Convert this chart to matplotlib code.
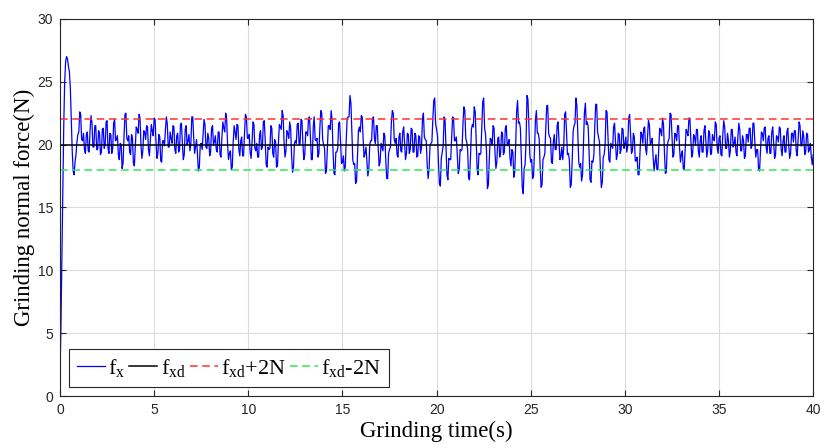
import numpy as np
import matplotlib.pyplot as plt

plt.rcParams['mathtext.fontset'] = 'custom'
plt.rcParams['mathtext.rm'] = 'Liberation Serif'
plt.rcParams['mathtext.it'] = 'Liberation Serif'

fx_even = [
    1.7, 11.0, 21.5, 26.6, 26.8, 25.8, 22.0, 17.9, 18.6, 20.2,
    21.0, 22.4, 20.3, 19.6, 20.8, 19.5, 21.2, 21.7, 19.8, 21.5,
    19.6, 20.9, 19.4, 21.3, 20.0, 21.9, 19.3, 20.8, 19.7, 22.0,
    20.4, 19.2, 20.1, 18.1, 20.6, 22.5, 20.3, 19.4, 20.8, 18.5,
    19.9, 21.2, 22.4, 20.0, 19.5, 21.0, 21.5, 19.6, 20.4, 21.1,
    22.1, 20.2, 19.3, 20.6, 18.6, 20.3, 21.2, 21.6, 19.8, 20.5,
    21.5, 19.6, 20.7, 19.4, 21.6, 20.1, 19.2, 21.5, 20.3, 19.5,
    22.2, 20.6, 19.8, 19.3, 18.2, 20.1, 20.8, 21.6, 19.7, 20.5,
    19.4, 21.5, 20.2, 19.6, 21.0, 19.2, 20.6, 21.3, 22.5, 20.0,
    19.3, 18.0, 20.2, 21.0, 21.6, 19.6, 20.3, 19.1, 20.9, 22.2,
    20.5, 19.4, 20.2, 21.6, 19.5, 19.0, 20.8, 19.6, 21.8, 20.3,
    18.2, 19.6, 21.5, 19.3, 20.4, 18.2, 20.1, 21.4, 22.7, 20.2,
    19.5, 20.9, 21.8, 19.1, 18.2, 20.3, 21.6, 20.0, 22.0, 20.1,
    19.2, 21.0, 22.1, 20.6, 18.8, 22.2, 20.3, 19.0, 21.3, 22.5,
    20.0, 17.7, 19.8, 21.5, 22.7, 19.5, 17.6, 19.4, 21.7, 20.2,
    18.6, 17.9, 20.3, 22.2, 23.9, 21.0, 18.4, 16.9, 19.0, 21.4,
    22.3, 20.4, 19.3, 18.6, 18.0, 20.3, 22.1, 20.5, 21.5, 19.7,
    18.6, 19.8, 20.9, 18.8, 17.3, 19.6, 21.8, 22.5, 20.1, 19.2,
    20.6, 19.5, 21.0, 20.1, 19.3, 20.8, 19.6, 21.2, 19.4, 20.7,
    19.1, 20.6, 19.8, 22.5, 20.4, 18.4, 18.0, 20.1, 22.0, 23.7,
    21.2, 18.5, 16.7, 19.4, 22.2, 19.8, 17.2, 18.8, 20.6, 22.1,
    20.3, 19.2, 18.0, 19.5, 21.6, 22.7, 20.2, 17.3, 19.0, 21.6,
    23.0, 20.5, 17.6, 19.2, 21.3, 23.7, 20.8, 16.5, 18.9, 20.4,
    21.5, 19.4, 18.6, 20.6, 19.3, 20.9, 19.4, 21.5, 20.1, 18.9,
    19.6, 17.4, 20.0, 23.5, 21.8, 19.0, 16.1, 18.4, 23.9, 21.6,
    18.6, 17.3, 19.6, 22.7, 20.9, 18.2, 16.8, 19.0, 21.4, 23.1,
    20.6, 18.6, 20.2, 19.6, 21.5, 20.3, 19.0, 18.8, 22.4, 21.0,
    19.3, 16.6, 18.7, 21.5, 23.7, 20.8, 18.2, 17.1, 20.0, 23.3,
    21.8, 19.2, 17.0, 18.6, 21.4, 23.2, 20.6, 18.0, 17.0, 19.2,
    22.7, 20.8, 18.6, 19.9, 21.4, 20.2, 19.2, 20.8, 19.6, 21.2,
    20.0, 19.4, 22.1, 20.9, 19.5, 20.6, 18.7, 17.6, 19.4, 20.8,
    21.3, 19.7, 20.5, 21.6, 20.2, 19.0, 18.6, 18.0, 19.8, 21.1,
    22.1, 19.4, 17.8, 20.3, 22.5, 20.6, 19.2, 20.8, 21.5, 19.8,
    19.2, 18.1, 19.6, 21.0, 22.1, 20.4, 19.3, 20.6, 21.2, 19.5,
    20.3, 19.4, 21.1, 20.2, 19.6, 20.9, 19.3, 20.5, 21.8, 19.8,
    20.5, 19.2, 20.8, 21.4, 19.7, 20.3, 19.5, 21.2, 20.1, 19.4,
    20.6, 21.2, 19.5, 20.3, 19.1, 20.8, 21.3, 19.7, 21.7, 20.2,
    19.6, 18.0, 19.5, 20.9, 21.3, 19.8, 20.5, 19.3, 21.0, 20.2,
    19.2, 20.6, 21.4, 19.6, 20.3, 19.4, 21.0, 20.0, 19.3, 20.9,
    21.1, 19.5, 20.4, 21.5, 19.9, 20.6, 19.4, 20.8, 19.6, 19.0,
    19.2,
]
# readings in between (t = 0.05, 0.15, ...), the fast ripple
fx_odd = [
    5.5, 17.0, 25.0, 27.0, 26.2, 24.5, 19.5, 17.6, 19.2, 20.8,
    22.6, 20.4, 20.9, 19.3, 21.0, 19.4, 22.3, 19.8, 21.5, 19.6,
    21.1, 19.2, 21.2, 19.7, 21.8, 19.7, 20.9, 19.3, 21.7, 20.3,
    20.7, 18.8, 20.0, 18.5, 22.4, 20.5, 20.7, 19.2, 20.5, 18.3,
    21.4, 20.9, 22.1, 18.9, 21.1, 20.4, 21.4, 19.1, 21.6, 20.7,
    22.0, 18.9, 20.8, 18.7, 20.3, 19.9, 22.2, 19.8, 21.0, 20.1,
    21.4, 19.3, 20.9, 19.6, 21.7, 18.8, 21.2, 20.0, 20.8, 20.0,
    22.2, 19.3, 20.4, 17.9, 20.0, 19.6, 22.0, 19.8, 20.9, 19.1,
    21.3, 20.0, 20.7, 19.4, 21.0, 19.0, 21.8, 21.0, 22.1, 18.8,
    19.5, 18.2, 21.5, 20.4, 21.5, 19.1, 20.6, 19.1, 22.4, 20.5,
    20.8, 18.9, 21.8, 19.7, 20.1, 19.0, 21.1, 19.8, 21.9, 18.4,
    19.8, 19.7, 21.3, 19.0, 20.2, 18.3, 21.6, 21.2, 22.3, 19.0,
    21.1, 20.5, 21.3, 17.8, 20.1, 20.1, 21.7, 20.1, 21.9, 18.8,
    21.0, 20.7, 22.2, 18.8, 21.4, 20.4, 20.5, 19.3, 22.7, 20.4,
    19.7, 17.9, 21.5, 21.2, 22.0, 17.7, 19.4, 19.7, 21.8, 18.5,
    19.1, 18.2, 22.1, 22.2, 23.3, 18.8, 18.5, 17.1, 21.1, 21.0,
    22.2, 19.0, 19.8, 17.5, 20.0, 20.3, 22.2, 20.1, 21.5, 18.3,
    20.1, 19.5, 20.7, 17.3, 19.3, 19.8, 22.7, 20.4, 20.5, 19.0,
    20.9, 19.4, 21.4, 18.8, 20.9, 19.3, 21.3, 19.4, 20.9, 19.0,
    20.7, 19.3, 22.0, 20.6, 20.3, 17.3, 19.9, 20.2, 23.5, 21.6,
    20.7, 16.9, 18.9, 19.9, 21.9, 17.6, 18.9, 18.8, 22.2, 20.3,
    20.6, 17.7, 19.6, 19.6, 23.0, 20.5, 19.6, 17.2, 21.2, 21.4,
    22.6, 18.1, 19.3, 19.3, 23.4, 21.3, 19.5, 16.8, 20.5, 20.0,
    21.3, 18.1, 20.5, 19.0, 21.0, 19.2, 21.3, 19.9, 20.4, 18.3,
    19.4, 17.8, 22.6, 21.7, 21.3, 16.6, 18.1, 20.2, 23.6, 19.2,
    18.8, 17.5, 22.0, 20.9, 20.4, 16.6, 18.8, 19.3, 23.1, 20.9,
    20.5, 18.5, 20.8, 19.6, 21.8, 18.8, 19.8, 19.7, 22.6, 19.2,
    18.8, 16.8, 21.0, 21.7, 23.1, 18.6, 18.5, 17.6, 22.5, 21.6,
    21.4, 17.2, 18.7, 19.1, 23.2, 21.0, 20.2, 16.6, 19.0, 20.0,
    22.6, 18.8, 20.1, 19.7, 21.7, 18.8, 20.9, 19.3, 21.3, 19.7,
    20.6, 19.9, 22.4, 19.3, 20.9, 18.7, 19.0, 17.6, 21.0, 20.1,
    21.4, 19.2, 21.9, 20.0, 20.5, 17.9, 19.2, 18.0, 21.3, 20.7,
    21.6, 17.7, 19.9, 20.5, 22.4, 19.0, 20.9, 20.3, 21.5, 18.6,
    19.5, 18.0, 21.2, 20.7, 22.1, 19.0, 20.8, 20.0, 21.2, 19.0,
    20.7, 19.4, 21.5, 19.0, 21.1, 19.2, 20.8, 20.3, 21.6, 19.3,
    20.7, 19.1, 21.9, 19.7, 20.9, 19.0, 21.2, 19.8, 20.6, 19.1,
    21.7, 19.5, 20.7, 18.9, 20.8, 20.2, 21.3, 19.9, 21.7, 19.0,
    19.6, 17.9, 21.0, 20.3, 21.4, 19.3, 20.7, 19.3, 21.4, 18.9,
    20.7, 20.2, 21.3, 19.1, 20.7, 19.4, 21.3, 18.9, 20.9, 20.2,
    21.1, 19.1, 21.8, 19.9, 21.1, 19.2, 20.9, 19.4, 20.1, 18.4,
]
t_end = 40
fxd = 20
band = 2

labels = [r'$\mathrm{f_{x}}$', r'$\mathrm{f_{xd}}$',
          r'$\mathrm{f_{xd}}$+2N', r'$\mathrm{f_{xd}}$-2N']

fx = np.empty(len(fx_even) + len(fx_odd))
fx[0::2] = fx_even
fx[1::2] = fx_odd
t = np.linspace(0, t_end, len(fx))
tt = np.array([0, t_end])

fig = plt.figure(figsize=(8.25, 4.48), dpi=100)
ax = fig.add_axes([0.0727, 0.116, 0.913, 0.842])

ax.plot(t, fx, '-', color=(0, 0, 1), lw=0.9, label=labels[0])
ax.plot(tt, [fxd, fxd], '-', color='black', lw=1.1, label=labels[1])
ax.plot(tt, [fxd + band] * 2, '--', color='#ff3030', lw=1.1,
        dashes=(5, 3), label=labels[2])
ax.plot(tt, [fxd - band] * 2, '--', color='#2ee856', lw=1.1,
        dashes=(5, 3), label=labels[3])

ax.set_xlim(0, 40)
ax.set_ylim(0, 30)
ax.set_xticks(np.arange(0, 41, 5))
ax.set_yticks(np.arange(0, 31, 5))
ax.grid(True, color='#dcdcdc', lw=0.8)
ax.set_axisbelow(True)
ax.tick_params(direction='in', top=True, right=True, length=4,
               width=0.8, colors='#262626', labelsize=10, pad=5)
for lab in ax.get_xticklabels() + ax.get_yticklabels():
    lab.set_family('Liberation Sans')
for s in ax.spines.values():
    s.set_color('#262626')
    s.set_linewidth(0.8)

ax.set_xlabel('Grinding time(s)', family='Liberation Serif',
              fontsize=16.5, labelpad=3)
ax.set_ylabel('Grinding normal force(N)', family='Liberation Serif',
              fontsize=16.5, labelpad=2)

leg = ax.legend(loc='lower left', bbox_to_anchor=(0.012, 0.024),
                borderaxespad=0, ncol=4, fancybox=False,
                prop={'family': 'Liberation Serif', 'size': 16},
                handlelength=1.25, handletextpad=0.15, columnspacing=0.2,
                borderpad=0.35, framealpha=1)
leg.get_frame().set_edgecolor('#262626')
leg.get_frame().set_linewidth(0.8)

plt.savefig('out.png', dpi=100)
